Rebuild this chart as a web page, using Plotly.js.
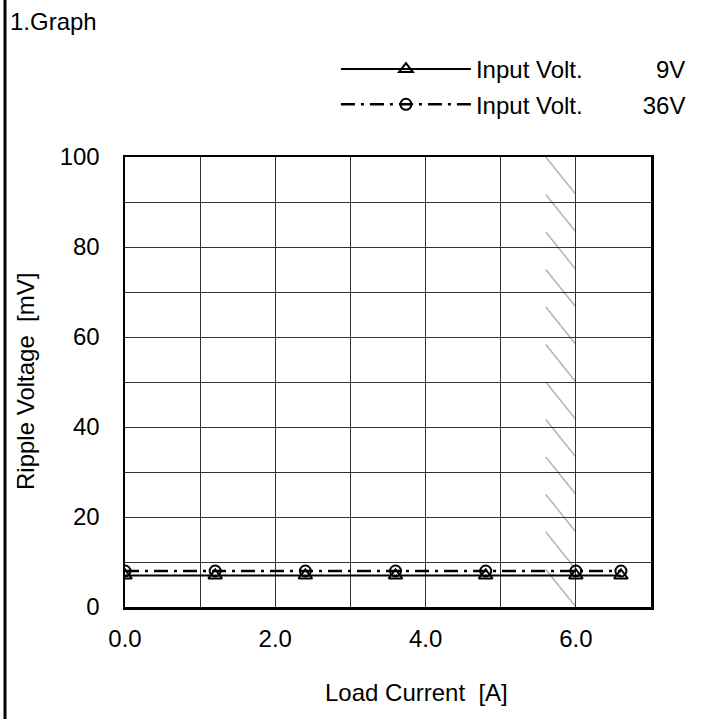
<!DOCTYPE html>
<html>
<head>
<meta charset="utf-8">
<script src="https://cdn.plot.ly/plotly-3.0.1.min.js"></script>
<style>html,body{margin:0;padding:0;background:#fff;}#chart{width:702px;height:719px;}</style>
</head>
<body>
<div id="chart"></div>
<script>
// Data
var loadCurrent = [0.0, 1.2, 2.4, 3.6, 4.8, 6.0, 6.6];
var ripple9V = [7, 7, 7, 7, 7, 7, 7];
var ripple36V = [8, 8, 8, 8, 8, 8, 8];
var seriesNames = ['Input Volt.\u00A0\u00A0\u00A0\u00A0\u00A0\u00A0\u00A0\u00A0\u00A0\u00A0\u00A09V', 'Input Volt.\u00A0\u00A0\u00A0\u00A0\u00A0\u00A0\u00A0\u00A0\u00A036V'];
var xTickVals = [0, 2, 4, 6];
var xTickText = ['0.0', '2.0', '4.0', '6.0'];
var yTickVals = [0, 20, 40, 60, 80, 100];
var yTickText = ['0', '20', '40', '60', '80', '100'];
var xTitle = 'Load Current  [A]';
var yTitle = 'Ripple Voltage  [mV]';
// hatch (derating area) boundaries
var hatchXStart = 5.6, hatchXEnd = 6.0, hatchCount = 12;

var FONT = 'Liberation Sans, Arial, sans-serif';
var fs = 24;

var hatchShapes = [];
for (var k = 0; k < hatchCount; k++) {
  var yTop = 100 - k * 100 / hatchCount;
  hatchShapes.push({type: 'line', xref: 'x', yref: 'y', x0: hatchXStart, x1: hatchXEnd,
    y0: yTop, y1: yTop - 100 / hatchCount, line: {color: '#b4b4b4', width: 1.5}, layer: 'below'});
}
// left frame border
hatchShapes.push({type: 'line', xref: 'paper', yref: 'paper', x0: -120/526, x1: -120/526, y0: -112/450, y1: 157/450 + 1,
  line: {color: '#000', width: 3}});

var traces = [
  {x: loadCurrent, y: ripple9V, name: seriesNames[0], legendgroup: 'a', mode: 'lines+markers', type: 'scatter',
   line: {color: '#000', width: 2}, marker: {symbol: 'triangle-up-open', size: 12, color: '#000', line: {width: 2, color: '#000'}}},
  {x: loadCurrent, y: ripple36V, name: seriesNames[1], legendgroup: 'b', mode: 'lines+markers', type: 'scatter',
   line: {color: '#000', width: 2.5, dash: '14px,6px,3px,6px'}, marker: {symbol: 'circle-open', size: 11, color: '#000', line: {width: 2, color: '#000'}}}
];

var layout = {
  width: 702, height: 719,
  margin: {l: 125, r: 51, t: 157, b: 112, autoexpand: false},
  paper_bgcolor: '#fff', plot_bgcolor: '#fff',
  font: {family: FONT, size: fs, color: '#000'},
  title: {text: '1.Graph', x: 10/702, xanchor: 'left', xref: 'container', y: 1 - 22/719, yanchor: 'middle', yref: 'container',
          font: {family: FONT, size: fs, color: '#000'}},
  showlegend: true,
  legend: {x: 0.401, xanchor: 'left', y: (607-47)/450, yanchor: 'top', itemwidth: 130, traceorder: 'grouped', tracegroupgap: 1,
           bgcolor: 'rgba(0,0,0,0)', borderwidth: 0, font: {family: FONT, size: fs, color: '#000'}},
  xaxis: {range: [0, 7], tickvals: xTickVals, ticktext: xTickText, showgrid: true, gridcolor: '#333', gridwidth: 1,
          minor: {dtick: 1, tick0: 0, showgrid: true, gridcolor: '#333', gridwidth: 1},
          showline: true, mirror: true, linecolor: '#000', linewidth: 2.5, ticks: '', ticklabelstandoff: 9,
          zeroline: false, fixedrange: true, tickfont: {family: FONT, size: fs}},
  yaxis: {range: [0, 100], tickvals: yTickVals, ticktext: yTickText, showgrid: true, gridcolor: '#333', gridwidth: 1,
          minor: {dtick: 10, tick0: 0, showgrid: true, gridcolor: '#333', gridwidth: 1},
          showline: true, mirror: true, linecolor: '#000', linewidth: 2.5, ticks: '', ticklabelstandoff: 18,
          zeroline: false, fixedrange: true, tickfont: {family: FONT, size: fs}},
  annotations: [
    {text: xTitle, xref: 'paper', yref: 'paper', x: (416-125)/526, y: -(692-607)/450,
     xanchor: 'center', yanchor: 'middle', showarrow: false, font: {family: FONT, size: fs, color: '#000'}},
    {text: yTitle, xref: 'paper', yref: 'paper', x: -(125-25)/526, y: (607-382)/450, textangle: -90,
     xanchor: 'center', yanchor: 'middle', showarrow: false, font: {family: FONT, size: fs, color: '#000'}}
  ],
  shapes: hatchShapes
};

Plotly.newPlot('chart', traces, layout, {displayModeBar: false, staticPlot: true});
</script>
</body>
</html>
